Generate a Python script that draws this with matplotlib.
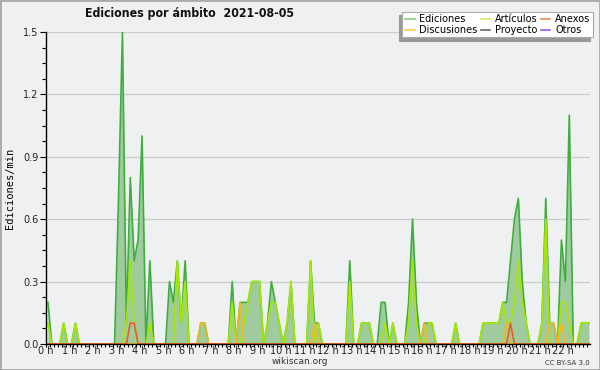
import matplotlib
matplotlib.use("Agg")
import matplotlib.pyplot as plt
from matplotlib import font_manager
from matplotlib.lines import Line2D
from matplotlib.patches import Rectangle
from matplotlib.ticker import MultipleLocator, FixedLocator
import numpy as np

# une valeur par tranche de 10 minutes (6 par heure), en éditions/min
ediciones = [
    0.2, 0, 0, 0, 0.1, 0,          # 0 h
    0, 0.1, 0, 0, 0, 0,            # 1 h
    0, 0, 0, 0, 0, 0,              # 2 h
    0.7, 1.5, 0.1, 0.8, 0.4, 0.5,  # 3 h
    1.0, 0, 0.4, 0, 0, 0,          # 4 h
    0, 0.3, 0.2, 0.4, 0.1, 0.4,    # 5 h
    0, 0, 0, 0.1, 0.1, 0,          # 6 h
    0, 0, 0, 0, 0, 0.3,            # 7 h
    0, 0.2, 0.2, 0.2, 0.3, 0.3,    # 8 h
    0.3, 0, 0.1, 0.3, 0.2, 0.1,    # 9 h
    0, 0.1, 0.3, 0, 0, 0,          # 10 h
    0, 0.4, 0.1, 0.1, 0, 0,        # 11 h
    0, 0, 0, 0, 0, 0.4,            # 12 h
    0, 0, 0.1, 0.1, 0.1, 0,        # 13 h
    0, 0.2, 0.2, 0, 0.1, 0,        # 14 h
    0, 0, 0.2, 0.6, 0.2, 0,        # 15 h
    0.1, 0.1, 0.1, 0, 0, 0,        # 16 h
    0, 0, 0.1, 0, 0, 0,            # 17 h
    0, 0, 0, 0.1, 0.1, 0.1,        # 18 h
    0.1, 0.1, 0.2, 0.2, 0.4, 0.6,  # 19 h
    0.7, 0.3, 0.1, 0, 0, 0,        # 20 h
    0.1, 0.7, 0.1, 0.1, 0, 0.5,    # 21 h
    0.3, 1.1, 0, 0, 0.1, 0.1,      # 22 h
    0.1,                           # 23 h
]

articulos = [
    0.1, 0, 0, 0, 0.1, 0,
    0, 0.1, 0, 0, 0, 0,
    0, 0, 0, 0, 0, 0,
    0, 0, 0.1, 0.4, 0.1, 0,
    0, 0, 0.1, 0, 0, 0,
    0, 0, 0, 0.4, 0.1, 0.3,
    0, 0, 0, 0, 0, 0,
    0, 0, 0, 0, 0, 0.2,
    0, 0, 0.1, 0.2, 0.3, 0.3,
    0.3, 0, 0.1, 0.2, 0.2, 0.1,
    0, 0.1, 0.3, 0, 0, 0,
    0, 0.4, 0, 0.1, 0, 0,
    0, 0, 0, 0, 0, 0.3,
    0, 0, 0.1, 0.1, 0.1, 0,
    0, 0, 0.1, 0, 0.1, 0,
    0, 0, 0.1, 0.4, 0.1, 0,
    0, 0.1, 0.1, 0, 0, 0,
    0, 0, 0.1, 0, 0, 0,
    0, 0, 0, 0.1, 0.1, 0.1,
    0.1, 0.1, 0.2, 0.1, 0.1, 0.2,
    0.4, 0.2, 0.1, 0, 0, 0,
    0.1, 0.6, 0, 0, 0, 0.2,
    0.2, 0.1, 0, 0, 0.1, 0.1,
    0.1,
]

anexos = [
    0, 0, 0, 0, 0, 0,
    0, 0, 0, 0, 0, 0,
    0, 0, 0, 0, 0, 0,
    0, 0, 0, 0.1, 0.1, 0,
    0, 0, 0, 0, 0, 0,
    0, 0, 0, 0, 0, 0,
    0, 0, 0, 0, 0, 0,
    0, 0, 0, 0, 0, 0,
    0, 0, 0, 0, 0, 0,
    0, 0, 0, 0, 0, 0,
    0, 0, 0, 0, 0, 0,
    0, 0, 0, 0, 0, 0,
    0, 0, 0, 0, 0, 0,
    0, 0, 0, 0, 0, 0,
    0, 0, 0, 0, 0, 0,
    0, 0, 0, 0, 0, 0,
    0, 0, 0, 0, 0, 0,
    0, 0, 0, 0, 0, 0,
    0, 0, 0, 0, 0, 0,
    0, 0, 0, 0, 0.1, 0,
    0, 0, 0, 0, 0, 0,
    0, 0, 0, 0, 0, 0,
    0, 0, 0, 0, 0, 0,
    0,
]

discusiones = [
    0, 0, 0, 0, 0, 0,
    0, 0, 0, 0, 0, 0,
    0, 0, 0, 0, 0, 0,
    0, 0, 0, 0, 0, 0,
    0, 0, 0, 0, 0, 0,
    0, 0, 0, 0, 0, 0,
    0, 0, 0, 0.1, 0.1, 0,
    0, 0, 0, 0, 0, 0,
    0, 0.2, 0, 0, 0, 0,
    0, 0, 0, 0, 0, 0,
    0, 0, 0, 0, 0, 0,
    0, 0, 0.1, 0, 0, 0,
    0, 0, 0, 0, 0, 0,
    0, 0, 0, 0, 0, 0,
    0, 0, 0, 0, 0, 0,
    0, 0, 0, 0, 0, 0,
    0.1, 0, 0, 0, 0, 0,
    0, 0, 0, 0, 0, 0,
    0, 0, 0, 0, 0, 0,
    0, 0, 0, 0.1, 0, 0,
    0, 0, 0, 0, 0, 0,
    0, 0, 0.1, 0.1, 0, 0.1,
    0, 0, 0, 0, 0, 0,
    0,
]

hour_labels = [f"{h} h" for h in range(23)]
legend_labels = ["Ediciones", "Discusiones", "Artículos", "Proyecto", "Anexos", "Otros"]
legend_colors = ["#88cc88", "#ffcc44", "#ccee66", "#666666", "#ee8855", "#9955ee"]

bg = "#eef0f1"
x = (np.arange(len(ediciones)) + 0.5) / 6  # centre de chaque tranche, en heures

# police étroite pour le titre si disponible
names = {f.name for f in font_manager.fontManager.ttflist}
condensed = any(f.name == "DejaVu Sans" and "condensed" in str(f.stretch)
                for f in font_manager.fontManager.ttflist)
if condensed:
    title_font = dict(family="DejaVu Sans", fontstretch="condensed", fontsize=8.8)
elif "Liberation Sans Narrow" in names:
    title_font = dict(family="Liberation Sans Narrow", fontsize=10)
else:
    title_font = dict(family="DejaVu Sans", fontsize=7.8)

fig = plt.figure(figsize=(6, 3.7), dpi=100, facecolor=bg)
ax = fig.add_axes([46 / 600, 26 / 370, 544 / 600, 312 / 370])
ax.set_facecolor(bg)

ax.fill_between(x, ediciones, 0, color="#9fcb9f", lw=0, zorder=1)
ax.plot(x, ediciones, color="#3fae3f", lw=1.2, zorder=3)
ax.plot(x, articulos, color="#a6e800", lw=1.2, zorder=4)
ax.plot(x, discusiones, color="#f2b81c", lw=1.2, zorder=5)
ax.plot(x, anexos, color="#ee5a22", lw=1.2, zorder=6)

ax.set_xlim(0, 23.13)
ax.set_ylim(0, 1.5)

ax.xaxis.set_major_locator(FixedLocator(range(23)))
ax.set_xticklabels(hour_labels)
ax.xaxis.set_minor_locator(MultipleLocator(1 / 6))
ax.yaxis.set_major_locator(MultipleLocator(0.3))
ax.yaxis.set_minor_locator(MultipleLocator(0.075))
ax.yaxis.set_major_formatter(plt.FuncFormatter(lambda v, p: f"{v:.1f}"))

ax.tick_params(which="both", direction="out", width=0.8, color="black",
               labelsize=7, labelcolor="#222222")
ax.tick_params(axis="y", which="major", length=4, pad=1.5)
ax.tick_params(axis="y", which="minor", length=3)
ax.tick_params(axis="x", which="both", length=2.2, pad=-1)
ax.grid(axis="y", which="major", color="#cccccc", lw=0.9, zorder=0)
ax.set_axisbelow(True)

for side in ["top", "right"]:
    ax.spines[side].set_visible(False)
for side in ["left", "bottom"]:
    ax.spines[side].set_linewidth(1.0)
    ax.spines[side].set_zorder(8)

ax.set_ylabel("Ediciones/min", family="DejaVu Sans Mono", fontsize=7.5, labelpad=6)

fig.text(85 / 600, 1 - 14 / 370, "Ediciones por ámbito  2021-08-05",
         fontweight="bold", ha="left", va="center", color="#111111", **title_font)
fig.text(300 / 600, 1 - 362 / 370, "wikiscan.org", fontsize=6.5, ha="center",
         va="center", color="#333333")
fig.text(590 / 600, 1 - 363 / 370, "CC BY-SA 3.0", fontsize=5, ha="right",
         va="center", color="#333333")

handles = [Line2D([], [], color=c, lw=1.2) for c in legend_colors]
leg = fig.legend(handles, legend_labels, ncol=3, loc="upper right",
                 bbox_to_anchor=(593 / 600, 1 - 12 / 370), fontsize=7,
                 frameon=True, fancybox=False, handlelength=1.0,
                 handletextpad=0.5, columnspacing=0.3, labelspacing=0.05,
                 borderpad=0.25, borderaxespad=0,
                 shadow={"ox": -2.5, "oy": -2.5, "color": "#999999", "alpha": 1})
leg.get_frame().set_edgecolor("#aaaaaa")
leg.get_frame().set_linewidth(0.8)

fig.patches.append(Rectangle((0, 0), 1, 1, transform=fig.transFigure, fill=False,
                             edgecolor="#aaaaaa", lw=2))

fig.savefig("out.png", dpi=100, facecolor=bg)
